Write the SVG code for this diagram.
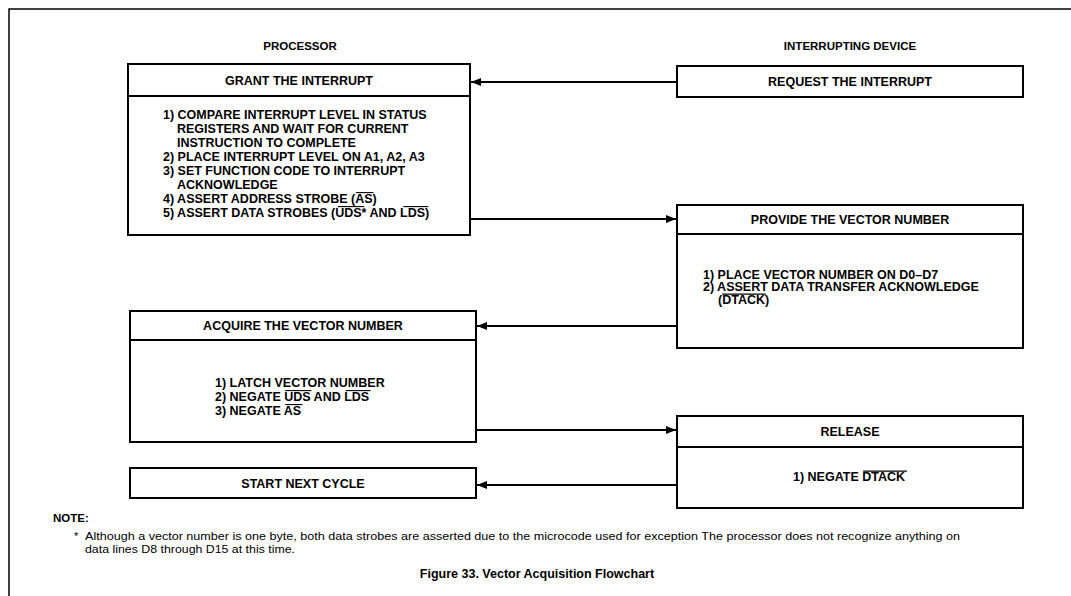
<svg xmlns="http://www.w3.org/2000/svg" width="1071" height="596" viewBox="0 0 1071 596">
<style>
text{font-family:"Liberation Sans",Arial,sans-serif;fill:#000;}
.t{font-size:12.5px;font-weight:bold;}
.h{font-size:12.5px;font-weight:bold;text-anchor:middle;}
.col{font-size:11.5px;font-weight:bold;text-anchor:middle;}
.box{fill:#fff;stroke:#000;stroke-width:2;}
.div{stroke:#000;stroke-width:2;}
.ov{stroke:#000;stroke-width:1.1;}
.conn{stroke:#000;stroke-width:2;fill:none;marker-end:url(#ah);}
.note{font-size:11px;}
</style>
<defs>
<marker id="ah" markerWidth="10" markerHeight="8" refX="10" refY="4" orient="auto" markerUnits="userSpaceOnUse">
<path d="M0,0 L10,4 L0,8 Z" fill="#000"/>
</marker>
</defs>
<path d="M9,596 V9 H1071" fill="none" stroke="#000" stroke-width="1.5"/>
<text class="col" x="300" y="50">PROCESSOR</text>
<text class="col" x="850" y="50">INTERRUPTING DEVICE</text>

<g id="grant">
<rect class="box" x="128" y="64" width="342" height="171"/>
<line class="div" x1="128" y1="96" x2="470" y2="96"/>
<text class="h" x="299" y="85">GRANT THE INTERRUPT</text>
<text class="t" x="163" y="118.5">1) COMPARE INTERRUPT LEVEL IN STATUS</text>
<text class="t" x="177" y="132.5">REGISTERS AND WAIT FOR CURRENT</text>
<text class="t" x="177" y="146.5">INSTRUCTION TO COMPLETE</text>
<text class="t" x="163" y="160.5">2) PLACE INTERRUPT LEVEL ON A1, A2, A3</text>
<text class="t" x="163" y="174.5">3) SET FUNCTION CODE TO INTERRUPT</text>
<text class="t" x="177" y="188.5">ACKNOWLEDGE</text>
<text class="t" x="163" y="202.5">4) ASSERT ADDRESS STROBE (AS)</text>
<line class="ov" x1="356.1" y1="192.6" x2="373.5" y2="192.6"/>
<text class="t" x="163" y="216.5">5) ASSERT DATA STROBES (UDS* AND LDS)</text>
<line class="ov" x1="338" y1="206.6" x2="364.4" y2="206.6"/>
<line class="ov" x1="403.3" y1="206.6" x2="428.3" y2="206.6"/>
</g>

<g id="request">
<rect class="box" x="677" y="66" width="346" height="31"/>
<text class="h" x="850" y="86">REQUEST THE INTERRUPT</text>
</g>

<g id="provide">
<rect class="box" x="677" y="205" width="346" height="143"/>
<line class="div" x1="677" y1="234" x2="1023" y2="234"/>
<text class="h" x="850" y="224">PROVIDE THE VECTOR NUMBER</text>
<text class="t" x="703" y="279">1) PLACE VECTOR NUMBER ON D0–D7</text>
<text class="t" x="703" y="291">2) ASSERT DATA TRANSFER ACKNOWLEDGE</text>
<text class="t" x="718" y="304">(DTACK)</text>
<line class="ov" x1="722.2" y1="294.1" x2="765.9" y2="294.1"/>
</g>

<g id="acquire">
<rect class="box" x="130" y="311" width="346" height="131"/>
<line class="div" x1="130" y1="340" x2="476" y2="340"/>
<text class="h" x="303" y="330">ACQUIRE THE VECTOR NUMBER</text>
<text class="t" x="215" y="386.5">1) LATCH VECTOR NUMBER</text>
<text class="t" x="215" y="400.5">2) NEGATE UDS AND LDS</text>
<line class="ov" x1="285.2" y1="390.6" x2="311.5" y2="390.6"/>
<line class="ov" x1="345.6" y1="390.6" x2="370.6" y2="390.6"/>
<text class="t" x="215" y="414.5">3) NEGATE AS</text>
<line class="ov" x1="285.2" y1="404.6" x2="302.5" y2="404.6"/>
</g>

<g id="release">
<rect class="box" x="677" y="416" width="346" height="92"/>
<line class="div" x1="677" y1="447" x2="1023" y2="447"/>
<text class="h" x="850" y="436">RELEASE</text>
<text class="t" x="793" y="481">1) NEGATE DTACK</text>
<line class="ov" x1="863.2" y1="471.1" x2="906.9" y2="471.1"/>
</g>

<g id="start">
<rect class="box" x="130" y="468" width="346" height="30"/>
<text class="h" x="303" y="488">START NEXT CYCLE</text>
</g>

<g id="connectors">
<line class="conn" x1="677" y1="82" x2="471" y2="82"/>
<line class="conn" x1="470" y1="219" x2="676" y2="219"/>
<line class="conn" x1="677" y1="326" x2="477" y2="326"/>
<line class="conn" x1="476" y1="430" x2="676" y2="430"/>
<line class="conn" x1="677" y1="485" x2="477" y2="485"/>
</g>

<text x="53" y="522" font-size="11.5" font-weight="bold">NOTE:</text>
<text class="note" x="74" y="540">*</text>
<text class="note" x="85" y="540" textLength="875" lengthAdjust="spacingAndGlyphs">Although a vector number is one byte, both data strobes are asserted due to the microcode used for exception  The processor does not recognize anything on</text>
<text class="note" x="85" y="553" textLength="210" lengthAdjust="spacingAndGlyphs">data lines D8 through D15 at this time.</text>
<text x="537" y="578" font-size="12.5" font-weight="bold" text-anchor="middle">Figure 33. Vector Acquisition Flowchart</text>
</svg>
